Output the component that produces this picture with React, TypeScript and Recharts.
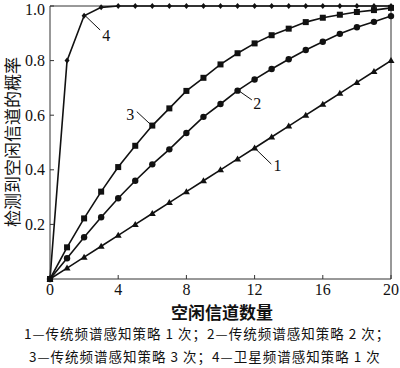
import { LineChart, Line, XAxis, YAxis, ReferenceLine, ReferenceDot } from 'recharts'

const channels = [0, 1, 2, 3, 4, 5, 6, 7, 8, 9, 10, 11, 12, 13, 14, 15, 16, 17, 18, 19, 20]
const trad1 = [0, 0.04, 0.08, 0.12, 0.16, 0.2, 0.24, 0.28, 0.32, 0.36, 0.4, 0.44, 0.48, 0.52, 0.56, 0.6, 0.64, 0.68, 0.72, 0.76, 0.8]
const trad2 = [0, 0.076, 0.153, 0.226, 0.296, 0.36, 0.42, 0.475, 0.535, 0.594, 0.641, 0.69, 0.731, 0.769, 0.805, 0.839, 0.869, 0.898, 0.922, 0.942, 0.963]
const trad3 = [0, 0.116, 0.222, 0.32, 0.41, 0.488, 0.562, 0.625, 0.689, 0.737, 0.786, 0.827, 0.863, 0.893, 0.917, 0.941, 0.957, 0.968, 0.978, 0.985, 0.993]
const satellite = [0, 0.8, 0.964, 0.995, 1, 1, 1, 1, 1, 1, 1, 1, 1, 1, 1, 1, 1, 1, 1, 1, 1]

const xTicks = [0, 4, 8, 12, 16, 20]
const yTicks = [0.2, 0.4, 0.6, 0.8, 1.0]

// curve labels: text position and leader line (from, to)
const curveLabels = [
  { name: '1', at: [13.35, 0.415], from: [12, 0.48], to: [12.98, 0.421] },
  { name: '2', at: [12.15, 0.645], from: [11.06, 0.69], to: [11.84, 0.656] },
  { name: '3', at: [4.7, 0.605], from: [5.09, 0.613], to: [5.97, 0.562] },
  { name: '4', at: [3.3, 0.892], from: [2.07, 0.964], to: [2.94, 0.912] },
]

const captions = [
  '1—传统频谱感知策略 1 次；2—传统频谱感知策略 2 次；',
  '3—传统频谱感知策略 3 次；4—卫星频谱感知策略 1 次',
]

const data = channels.map((c, i) => ({
  c,
  s1: trad1[i],
  s2: trad2[i],
  s3: trad3[i],
  s4: satellite[i],
}))

const ink = '#111'
const serif = '"Liberation Serif", "Times New Roman", serif'
const cjk = '"Noto Sans CJK SC", sans-serif'

const Triangle = (p: any) => (
  <path key={p.key} d={`M${p.cx},${p.cy - 3.5} L${p.cx + 3.5},${p.cy + 2.5} L${p.cx - 3.5},${p.cy + 2.5} Z`} fill={ink} />
)
const Circle = (p: any) => <circle key={p.key} cx={p.cx} cy={p.cy} r={3.2} fill={ink} />
const Square = (p: any) => <rect key={p.key} x={p.cx - 3} y={p.cy - 3} width={6} height={6} fill={ink} />
const Diamond = (p: any) => (
  <path key={p.key} d={`M${p.cx},${p.cy - 3} L${p.cx + 2.5},${p.cy} L${p.cx},${p.cy + 3} L${p.cx - 2.5},${p.cy} Z`} fill={ink} />
)

export default function App() {
  return (
    <div style={{ position: 'absolute', left: 0, top: 0, width: 400, height: 368, background: '#fff' }}>
      <LineChart width={400} height={368} data={data} margin={{ top: 6, right: 9, bottom: 49, left: 0 }}>
        <XAxis
          dataKey="c"
          type="number"
          domain={[0, 20]}
          ticks={xTicks}
          stroke="#333"
          tickSize={-4}
          tickMargin={9}
          height={40}
          tick={{ fontSize: 16, fill: ink, fontFamily: serif }}
        />
        <YAxis
          type="number"
          domain={[0, 1]}
          ticks={yTicks}
          stroke="#333"
          tickSize={-4}
          tickMargin={9}
          width={50}
          tickFormatter={(v) => v.toFixed(1)}
          tick={{ fontSize: 16, fill: ink, fontFamily: serif }}
        />
        <ReferenceLine y={1} stroke="#333" />
        <ReferenceLine x={20} stroke="#333" />
        <Line dataKey="s1" stroke={ink} strokeWidth={1.6} dot={Triangle} isAnimationActive={false} />
        <Line dataKey="s2" stroke={ink} strokeWidth={1.6} dot={Circle} isAnimationActive={false} />
        <Line dataKey="s3" stroke={ink} strokeWidth={1.6} dot={Square} isAnimationActive={false} />
        <Line dataKey="s4" stroke={ink} strokeWidth={1.6} dot={Diamond} isAnimationActive={false} />
        {curveLabels.map((l) => (
          <ReferenceLine
            key={'l' + l.name}
            segment={[
              { x: l.from[0], y: l.from[1] },
              { x: l.to[0], y: l.to[1] },
            ]}
            stroke={ink}
            strokeWidth={1}
          />
        ))}
        {curveLabels.map((l) => (
          <ReferenceDot
            key={'t' + l.name}
            x={l.at[0]}
            y={l.at[1]}
            r={0}
            label={{ value: l.name, fontSize: 16, fill: ink, fontFamily: serif, position: 'center' }}
          />
        ))}
      </LineChart>
      <div
        style={{
          position: 'absolute',
          left: 11,
          top: 142,
          transform: 'translate(-50%, -50%) rotate(-90deg)',
          whiteSpace: 'nowrap',
          fontFamily: cjk,
          fontSize: 17,
          lineHeight: '17px',
          color: ink,
        }}
      >
        检测到空闲信道的概率
      </div>
      <div
        style={{
          position: 'absolute',
          left: 0,
          width: 444,
          top: 303,
          textAlign: 'center',
          fontFamily: cjk,
          fontSize: 17,
          lineHeight: '17px',
          fontWeight: 600,
          color: ink,
        }}
      >
        空闲信道数量
      </div>
      {captions.map((c, i) => (
        <div
          key={c}
          style={{
            position: 'absolute',
            left: i === 0 ? 24 : 29,
            top: 326 + i * 23,
            whiteSpace: 'nowrap',
            fontFamily: cjk,
            fontSize: 13.5,
            lineHeight: '14px',
            letterSpacing: 1,
            color: ink,
          }}
        >
          {c}
        </div>
      ))}
    </div>
  )
}
